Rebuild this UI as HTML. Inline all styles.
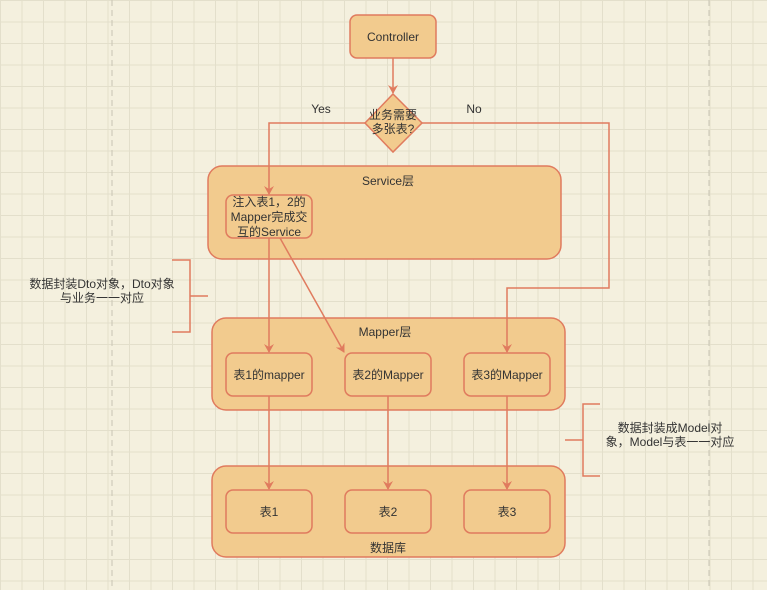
<!DOCTYPE html>
<html><head><meta charset="utf-8"><style>
body{margin:0;width:767px;height:590px;overflow:hidden;background:#f4f0de;
background-image:linear-gradient(#e3dfcb 1px,transparent 1px),linear-gradient(90deg,#e3dfcb 1px,transparent 1px);
background-size:21.5px 21.5px;font-family:"Liberation Sans","Noto Sans CJK SC",sans-serif;}
svg{position:absolute;left:0;top:0}
</style></head><body>
<svg width="767" height="590" viewBox="0 0 767 590" font-family="Liberation Sans, Noto Sans CJK SC, sans-serif" font-size="12" fill="#333">
<defs><marker id="a" markerWidth="10" markerHeight="10" refX="8" refY="5" orient="auto" markerUnits="userSpaceOnUse"><path d="M0,0 L9,5 L0,10 L3,5 Z" fill="#e07b5e"/></marker></defs>
<line x1="112" y1="0" x2="112" y2="590" stroke="#c8c4b4" stroke-dasharray="6,4"/>
<line x1="709" y1="0" x2="709" y2="590" stroke="#c8c4b4" stroke-dasharray="6,4"/>
<g stroke="#e07b5e" stroke-width="1.5" fill="#f2cb8e">
<rect x="208" y="166" width="353" height="93" rx="14"/>
<rect x="212" y="318" width="353" height="92" rx="14"/>
<rect x="212" y="466" width="353" height="91" rx="14"/>
<rect x="350" y="15" width="86" height="43" rx="7"/>
<polygon points="393,94 422,123 393,152 365,123"/>
<rect x="226" y="195" width="86" height="43" rx="7"/>
<rect x="226" y="353" width="86" height="43" rx="7"/>
<rect x="345" y="353" width="86" height="43" rx="7"/>
<rect x="464" y="353" width="86" height="43" rx="7"/>
<rect x="226" y="490" width="86" height="43" rx="7"/>
<rect x="345" y="490" width="86" height="43" rx="7"/>
<rect x="464" y="490" width="86" height="43" rx="7"/>
</g>
<g stroke="#e07b5e" stroke-width="1.5" fill="none">
<line x1="393" y1="58" x2="393" y2="93" marker-end="url(#a)"/>
<polyline points="365,123 269,123 269,194" marker-end="url(#a)"/>
<polyline points="422,123 609,123 609,288 507,288 507,352" marker-end="url(#a)"/>
<line x1="269" y1="238" x2="269" y2="352" marker-end="url(#a)"/>
<line x1="280" y1="238" x2="344" y2="352" marker-end="url(#a)"/>
<line x1="269" y1="396" x2="269" y2="489" marker-end="url(#a)"/>
<line x1="388" y1="396" x2="388" y2="489" marker-end="url(#a)"/>
<line x1="507" y1="396" x2="507" y2="489" marker-end="url(#a)"/>
<polyline points="172,260 190,260 190,332 172,332"/>
<line x1="190" y1="296" x2="208" y2="296"/>
<polyline points="600,404 583,404 583,476 600,476"/>
<line x1="565" y1="440" x2="583" y2="440"/>
</g>
<g text-anchor="middle">
<text x="393" y="41">Controller</text>
<text x="393" y="119">业务需要</text>
<text x="393" y="133">多张表?</text>
<text x="321" y="113">Yes</text>
<text x="474" y="113">No</text>
<text x="388" y="185">Service层</text>
<text x="269" y="206">注入表1，2的</text>
<text x="269" y="221">Mapper完成交</text>
<text x="269" y="236">互的Service</text>
<text x="385" y="336">Mapper层</text>
<text x="269" y="379">表1的mapper</text>
<text x="388" y="379">表2的Mapper</text>
<text x="507" y="379">表3的Mapper</text>
<text x="269" y="516">表1</text>
<text x="388" y="516">表2</text>
<text x="507" y="516">表3</text>
<text x="388" y="552">数据库</text>
<text x="102" y="288">数据封装Dto对象，Dto对象</text>
<text x="102" y="302">与业务一一对应</text>
<text x="670" y="432">数据封装成Model对</text>
<text x="670" y="446">象，Model与表一一对应</text>
</g>
</svg>
</body></html>
